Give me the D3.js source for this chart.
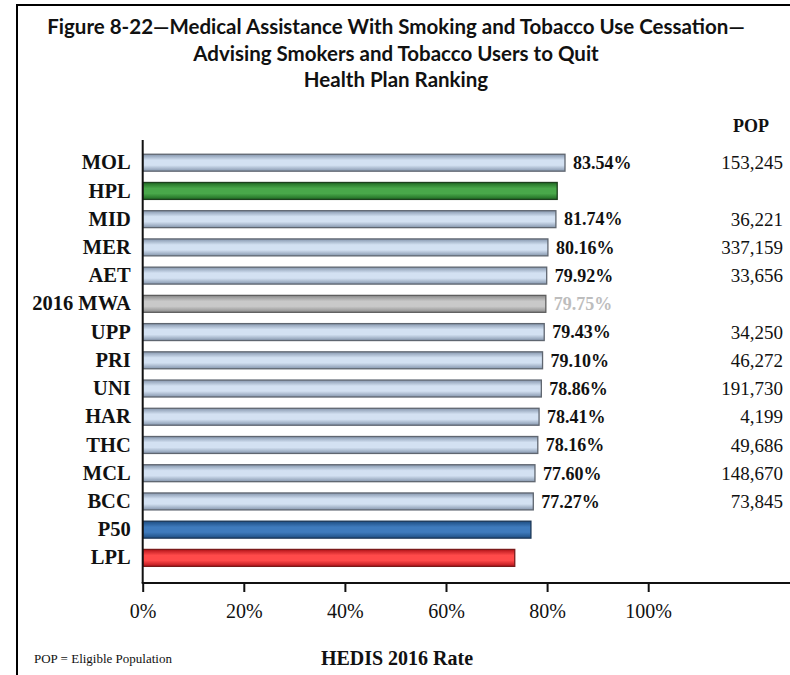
<!DOCTYPE html>
<html>
<head>
<meta charset="utf-8">
<script src="https://cdn.jsdelivr.net/npm/d3@7/dist/d3.min.js"></script>
<style>
  html, body { margin: 0; padding: 0; background: #fff; }
  svg { display: block; }
</style>
</head>
<body>
<svg id="chart" width="790" height="675"></svg>
<script>
const titleLines = [
  "Figure 8-22\u2014Medical Assistance With Smoking and Tobacco Use Cessation\u2014",
  "Advising Smokers and Tobacco Users to Quit",
  "Health Plan Ranking"
];
const categories = ["MOL","HPL","MID","MER","AET","2016 MWA","UPP","PRI","UNI","HAR","THC","MCL","BCC","P50","LPL"];
const rates      = [83.54, 82.0, 81.74, 80.16, 79.92, 79.75, 79.43, 79.10, 78.86, 78.41, 78.16, 77.60, 77.27, 76.8, 73.6];
const showLabel  = [true, false, true, true, true, true, true, true, true, true, true, true, true, false, false];
const barKinds   = ["plan","hpl","plan","plan","plan","mwa","plan","plan","plan","plan","plan","plan","plan","p50","lpl"];
const populations = ["153,245","","36,221","337,159","33,656","","34,250","46,272","191,730","4,199","49,686","148,670","73,845","",""];
const xTicks = [0, 20, 40, 60, 80, 100];
const xTitle = "HEDIS 2016 Rate";
const popHeader = "POP";
const footnote = "POP = Eligible Population";

const svg = d3.select("#chart");
const defs = svg.append("defs");

const palettes = {
  plan: { edge: "#8596ad", mid: "#d3e1f2", stroke: "#5f6670" },
  hpl:  { edge: "#1f6a22", mid: "#49a84a", stroke: "#1d3f1d" },
  mwa:  { edge: "#8a8a8a", mid: "#c9c9c9", stroke: "#5e5e5e" },
  p50:  { edge: "#1d4d82", mid: "#3f7bbd", stroke: "#1b3656" },
  lpl:  { edge: "#b5141a", mid: "#ff4a4a", stroke: "#7a1a1a" }
};
Object.entries(palettes).forEach(([k, p]) => {
  const g = defs.append("linearGradient").attr("id", "g-" + k)
    .attr("x1", 0).attr("y1", 0).attr("x2", 0).attr("y2", 1);
  g.append("stop").attr("offset", "0%").attr("stop-color", p.edge);
  g.append("stop").attr("offset", "35%").attr("stop-color", p.mid);
  g.append("stop").attr("offset", "65%").attr("stop-color", p.mid);
  g.append("stop").attr("offset", "100%").attr("stop-color", p.edge);
});

// frame
svg.append("line").attr("x1", 17).attr("x2", 17).attr("y1", 5).attr("y2", 675)
  .attr("stroke", "#000").attr("stroke-width", 2);
svg.append("line").attr("x1", 16).attr("x2", 790).attr("y1", 5).attr("y2", 5)
  .attr("stroke", "#000").attr("stroke-width", 2);

// title
svg.append("g").selectAll("text").data(titleLines).join("text")
  .attr("x", 396).attr("y", (d, i) => 34 + i * 26.5)
  .attr("text-anchor", "middle")
  .style("font-family", "Lato, 'Open Sans', sans-serif")
  .style("font-weight", "bold").style("font-size", "20.5px").style("fill", "#111")
  .text(d => d);

const x = d3.scaleLinear().domain([0, 100]).range([142.7, 648.2]);
const y = d3.scaleBand().domain(categories).range([148.6, 572]).paddingInner(0.4).paddingOuter(0.2);

const serif = "'Liberation Serif', 'Times New Roman', serif";

// bars
svg.append("g").selectAll("rect").data(categories).join("rect")
  .attr("x", x(0))
  .attr("y", (d) => y(d))
  .attr("width", (d, i) => x(rates[i]) - x(0))
  .attr("height", y.bandwidth())
  .attr("fill", (d, i) => "url(#g-" + barKinds[i] + ")")
  .attr("stroke", (d, i) => palettes[barKinds[i]].stroke)
  .attr("stroke-width", 1.3);

// value labels
svg.append("g").selectAll("text").data(categories).join("text")
  .filter((d, i) => showLabel[i])
  .attr("x", d => x(rates[categories.indexOf(d)]) + 8)
  .attr("y", d => y(d) + y.bandwidth() / 2)
  .attr("dy", "0.35em")
  .style("font-family", serif).style("font-weight", "bold").style("font-size", "18px")
  .style("fill", d => barKinds[categories.indexOf(d)] === "mwa" ? "#bdbdbd" : "#111")
  .text(d => rates[categories.indexOf(d)].toFixed(2) + "%");

// y axis (category labels)
const yAxis = d3.axisLeft(y).tickSize(0).tickPadding(12);
const gy = svg.append("g").attr("transform", `translate(${x(0)},0)`).call(yAxis);
gy.select(".domain").remove();
gy.selectAll("text").style("font-family", serif).style("font-weight", "bold")
  .style("font-size", "20.5px").style("fill", "#111");
svg.append("line").attr("x1", x(0)).attr("x2", x(0)).attr("y1", 140).attr("y2", 583)
  .attr("stroke", "#111").attr("stroke-width", 2);

// x axis
const xAxis = d3.axisBottom(x).tickValues(xTicks).tickFormat(d => d + "%").tickSize(9).tickPadding(12);
const gx = svg.append("g").attr("transform", "translate(0,583)").call(xAxis);
gx.select(".domain").remove();
gx.selectAll(".tick line").attr("stroke", "#111").attr("stroke-width", 2);
gx.selectAll("text").style("font-family", serif).style("font-size", "20px").style("fill", "#111");
svg.append("line").attr("x1", x(0) - 1).attr("x2", 790).attr("y1", 583).attr("y2", 583)
  .attr("stroke", "#111").attr("stroke-width", 2);

// POP column
svg.append("text").attr("x", 751).attr("y", 132).attr("text-anchor", "middle")
  .style("font-family", serif).style("font-weight", "bold").style("font-size", "18px")
  .style("fill", "#111").text(popHeader);
svg.append("g").selectAll("text").data(categories).join("text")
  .attr("x", 783)
  .attr("y", d => y(d) + y.bandwidth() / 2)
  .attr("dy", "0.35em")
  .attr("text-anchor", "end")
  .style("font-family", serif).style("font-size", "19px").style("fill", "#111")
  .text((d, i) => populations[i]);

// axis title + footnote
svg.append("text").attr("x", 397).attr("y", 665).attr("text-anchor", "middle")
  .style("font-family", serif).style("font-weight", "bold").style("font-size", "20px")
  .style("fill", "#111").text(xTitle);
svg.append("text").attr("x", 34).attr("y", 663)
  .style("font-family", serif).style("font-size", "13px")
  .style("fill", "#111").text(footnote);
</script>
</body>
</html>
